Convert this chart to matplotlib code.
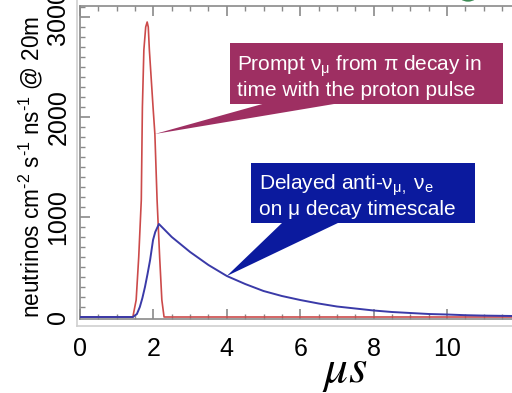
import matplotlib
matplotlib.use("Agg")
import matplotlib.pyplot as plt
from matplotlib.patches import Polygon, Rectangle, Circle
from matplotlib.ticker import MultipleLocator

plt.rcParams['font.family'] = ['Liberation Sans', 'DejaVu Sans']
plt.rcParams['mathtext.fontset'] = 'custom'
plt.rcParams['mathtext.rm'] = 'Liberation Sans'
plt.rcParams['mathtext.it'] = 'Liberation Sans:italic'

# ---- data ----
prompt_t = [0.0, 1.44, 1.53, 1.60, 1.67, 1.70, 1.74, 1.79, 1.83, 1.86, 1.89, 1.99, 2.04, 2.10,
            2.17, 2.23, 2.29, 11.8]
prompt_v = [0, 0, 170, 600, 1170, 2100, 2670, 2900, 2950, 2900, 2670, 2100, 1830, 1170,
            600, 170, 0, 0]

delayed_t = [0.0, 1.44, 1.55, 1.63, 1.70, 1.77, 1.84, 1.91, 1.99, 2.05, 2.10, 2.15, 2.5, 3.0,
             3.5, 4.0, 4.5, 5.0, 5.5, 6.0, 6.5, 7.0, 7.5, 8.0, 8.5, 9.0, 9.5, 10.0, 10.5,
             11.0, 11.8]
delayed_v = [0, 0, 30, 100, 190, 300, 430, 570, 770, 850, 890, 930, 800, 650,
             520, 410, 330, 260, 210, 170, 135, 105, 85, 65, 50, 40, 30, 25, 18,
             14, 10]

x_ticks = [0, 2, 4, 6, 8, 10]
y_ticks = [0, 1000, 2000, 3000]

W, H = 512, 393
fig = plt.figure(figsize=(W / 100, H / 100), dpi=100)

def px(x, y):
    return (x / W, 1 - y / H)

ax = fig.add_axes([80 / W, (H - 318.5) / H, 432 / W, 312.5 / H])
ax.set_xlim(0, 11.77)
ax.set_ylim(-15, 3110)

ax.plot(prompt_t, prompt_v, color='#cc4a4a', lw=1.2, zorder=3)
ax.plot(delayed_t, delayed_v, color='#3a3aa8', lw=1.4, zorder=4)

for s in ['left', 'bottom', 'top']:
    ax.spines[s].set_color('#8a8a8a')
    ax.spines[s].set_linewidth(1.2)
ax.spines['right'].set_visible(False)

ax.set_xticks(x_ticks)
ax.set_yticks(y_ticks)
ax.xaxis.set_minor_locator(MultipleLocator(0.5))
ax.yaxis.set_minor_locator(MultipleLocator(100))
ax.tick_params(which='both', direction='in', top=True, right=False, color='#8a8a8a')
ax.tick_params(which='major', length=7, width=1.2)
ax.tick_params(which='minor', length=3.5, width=1.0)
ax.tick_params(axis='x', labelsize=18, pad=13)
ax.tick_params(axis='y', labelsize=18, pad=7)
for lab in ax.get_yticklabels():
    lab.set_rotation(90)
    lab.set_va('center')

# outer light frame lines
fig.add_artist(plt.Line2D([77 / W, 1], [1 - 326 / H, 1 - 326 / H], color='#cfcfcf', lw=1.2))
fig.add_artist(plt.Line2D([77 / W, 77 / W], [1 - 326 / H, 1], color='#cfcfcf', lw=1.2))

# y label
fig.text(31 / W, 1 - 318 / H,
         r'neutrinos cm$^{\text{-2}}$ s$^{\text{-1}}$ ns$^{\text{-1}}$ @ 20m',
         rotation=90, ha='center', va='bottom', fontsize=16.3)

# x label
fig.text(322 / W, 1 - 382 / H, r'$\mu s$', math_fontfamily='stix',
         fontsize=34, ha='left', va='baseline')

# magenta callout
mag = '#9e2f62'
fig.add_artist(Rectangle(px(230, 104), 273 / W, 61 / H, transform=fig.transFigure,
                         facecolor=mag, edgecolor='none'))
tip1 = ax.transData.transform((2.04, 1830))
tip1f = fig.transFigure.inverted().transform(tip1)
fig.add_artist(Polygon([tip1f, px(266, 103), px(340, 103)], closed=True,
                       transform=fig.transFigure, facecolor=mag, edgecolor='none'))
fig.text(237 / W, 1 - 71 / H, 'Prompt ν$_\\mathregular{μ}$ from π decay in',
         color='white', fontsize=15, ha='left', va='baseline')
fig.text(237 / W, 1 - 96 / H, 'time with the proton pulse',
         color='white', fontsize=15, ha='left', va='baseline')

# blue callout
blu = '#0b1a9e'
fig.add_artist(Rectangle(px(251, 223), 224 / W, 60 / H, transform=fig.transFigure,
                         facecolor=blu, edgecolor='none'))
tip2 = ax.transData.transform((4.0, 410))
tip2f = fig.transFigure.inverted().transform(tip2)
fig.add_artist(Polygon([tip2f, px(283, 222), px(340, 222)], closed=True,
                       transform=fig.transFigure, facecolor=blu, edgecolor='none'))
fig.text(259 / W, 1 - 190 / H, 'Delayed anti-ν$_\\mathregular{μ,}$ ν$_\\mathregular{e}$',
         color='white', fontsize=15, ha='left', va='baseline')
fig.text(259 / W, 1 - 215 / H, 'on μ decay timescale',
         color='white', fontsize=15, ha='left', va='baseline')

# green blob at top
fig.add_artist(Circle(px(468, -6), 10 / W, transform=fig.transFigure,
                      facecolor='#3d8b55', edgecolor='none'))

fig.savefig('out.png', dpi=100)
